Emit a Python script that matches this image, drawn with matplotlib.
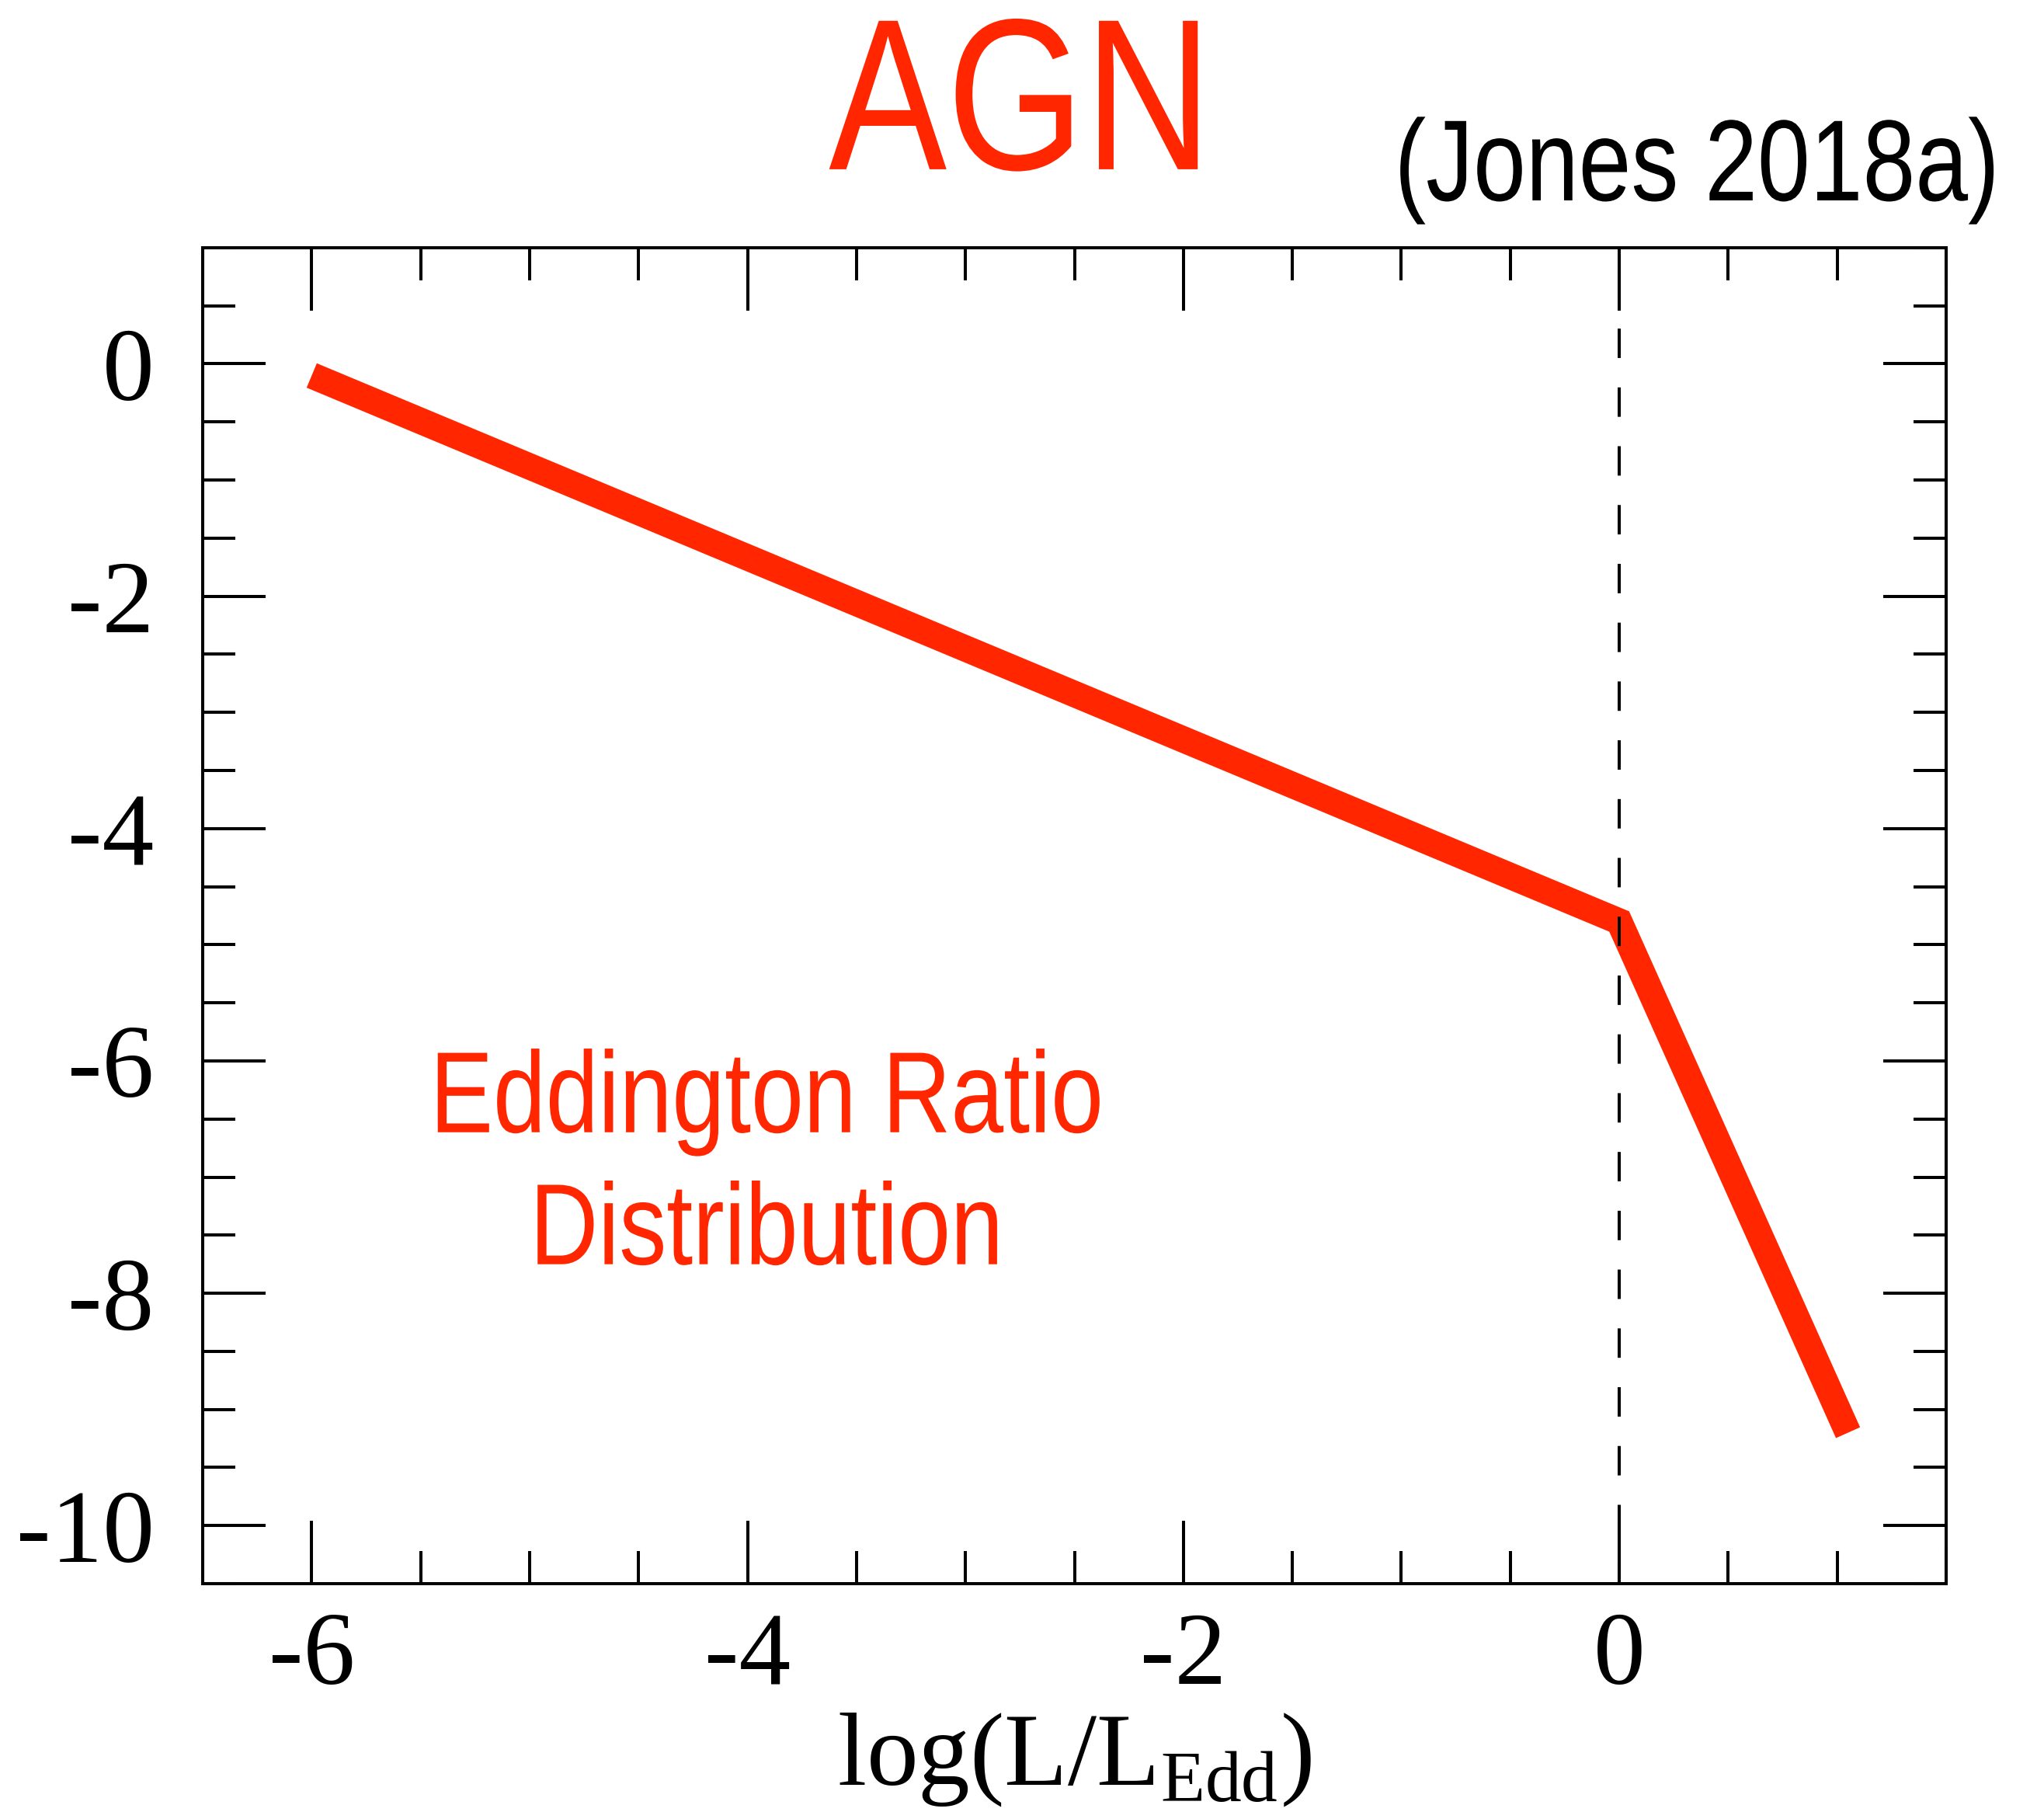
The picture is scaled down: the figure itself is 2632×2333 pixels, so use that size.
import matplotlib
matplotlib.use('Agg')
import matplotlib.pyplot as plt
from matplotlib import font_manager
from matplotlib.patheffects import AbstractPathEffect
from matplotlib.transforms import Affine2D
from matplotlib.ticker import MultipleLocator

# broken power law of the Eddington ratio distribution
log_edd = [-6.0, 0.0, 1.05]
log_p = [-0.1, -4.8, -9.2]

x_major = [-6, -4, -2, 0]
y_major = [0, -2, -4, -6, -8, -10]

rojo = '#ff2600'

fuentes = {f.name for f in font_manager.fontManager.ttflist}
if 'Liberation Sans Narrow' in fuentes:
    sans, ancho = 'Liberation Sans Narrow', 1.0
else:
    sans, ancho = 'Liberation Sans', 0.82
serif = 'Liberation Serif'


class Estrecho(AbstractPathEffect):
    """Squeeze glyphs horizontally (narrow Helvetica look), keeping one edge or the centre fixed."""

    def __init__(self, sx, ancla='center'):
        super().__init__()
        self.sx = sx
        self.ancla = ancla

    def draw_path(self, renderer, gc, tpath, affine, rgbFace=None):
        ext = tpath.get_extents()
        if self.ancla == 'right':
            cx = ext.x1
        else:
            cx = 0.5 * (ext.x0 + ext.x1)
        t = Affine2D().translate(-cx, 0).scale(self.sx, 1).translate(cx, 0) + affine
        renderer.draw_path(gc, tpath, t, rgbFace)


plt.rcParams['axes.unicode_minus'] = False
plt.rcParams['mathtext.fontset'] = 'custom'
plt.rcParams['mathtext.rm'] = serif

fig = plt.figure(figsize=(26.32, 23.33), dpi=100)
ax = fig.add_axes([0.0992, 0.1260, 0.8529, 0.7373])

ax.plot(log_edd, log_p, color=rojo, lw=24.5, solid_capstyle='butt',
        solid_joinstyle='miter')
ax.axvline(0, color='black', lw=2.9, linestyle=(3, (9.4, 9.4)))

ax.set_xlim(-6.5, 1.5)
ax.set_ylim(-10.5, 1.0)
ax.set_xticks(x_major)
ax.set_yticks(y_major)
ax.set_xticklabels([str(v) for v in x_major])
ax.set_yticklabels([str(v) for v in y_major])
ax.xaxis.set_minor_locator(MultipleLocator(0.5))
ax.yaxis.set_minor_locator(MultipleLocator(0.5))

ax.tick_params(which='both', direction='in', top=True, right=True, width=2.9)
ax.tick_params(which='major', length=58)
ax.tick_params(which='minor', length=30)
ax.tick_params(axis='y', which='major', pad=45)
ax.tick_params(axis='x', which='major', pad=26)
for lab in ax.get_xticklabels() + ax.get_yticklabels():
    lab.set_fontfamily(serif)
    lab.set_fontsize(96)
for s in ax.spines.values():
    s.set_linewidth(2.9)

ax.set_xlabel('log(L/L$_{\\mathrm{Edd}}$)', fontfamily=serif, fontsize=96,
              va='baseline')
ax.xaxis.set_label_coords(0.5, -0.150)

fig.text(0.500, 0.9066, 'AGN', color=rojo, fontfamily=sans, fontsize=200,
         ha='center', va='baseline', path_effects=[Estrecho(ancho)])
fig.text(0.979, 0.8894, '(Jones 2018a)', color='black', fontfamily=sans,
         fontsize=107, ha='right', va='baseline',
         path_effects=[Estrecho(ancho, 'right')])

ax.text(-3.913, -6.614, 'Eddington Ratio', color=rojo, fontfamily=sans,
        fontsize=107, ha='center', va='baseline', path_effects=[Estrecho(ancho)])
ax.text(-3.913, -7.75, 'Distribution', color=rojo, fontfamily=sans,
        fontsize=107, ha='center', va='baseline', path_effects=[Estrecho(ancho)])

fig.savefig('out.png', dpi=100, facecolor='white')
